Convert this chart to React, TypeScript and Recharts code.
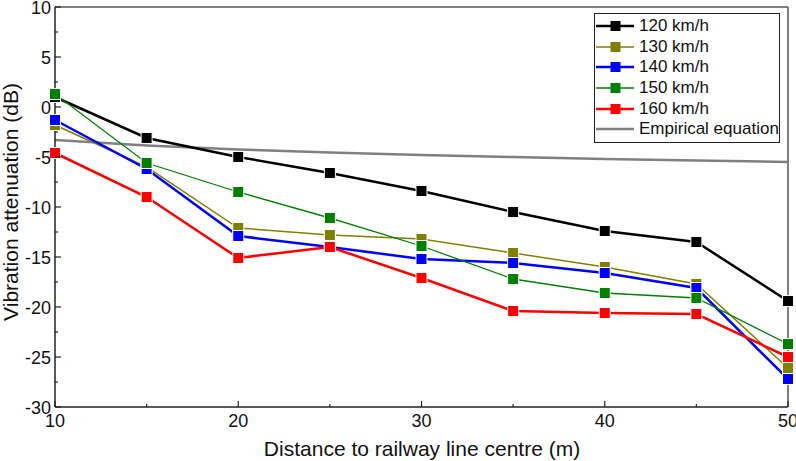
import React from "react";
import { LineChart, Line, XAxis, YAxis, ReferenceLine, Legend } from "recharts";

// distance to railway line centre (m)
const distances = [10, 15, 20, 25, 30, 35, 40, 45, 50];

// vibration attenuation (dB) per train speed
const speed120 = [1.0, -3.1, -5.0, -6.6, -8.4, -10.5, -12.4, -13.5, -19.4];
const speed130 = [-1.8, -6.0, -12.1, -12.8, -13.2, -14.6, -16.0, -17.7, -26.1];
const speed140 = [-1.3, -6.2, -12.9, -14.0, -15.2, -15.6, -16.6, -18.1, -27.2];
const speed150 = [1.3, -5.6, -8.5, -11.1, -13.9, -17.2, -18.6, -19.1, -23.7];
const speed160 = [-4.6, -9.0, -15.1, -14.0, -17.1, -20.4, -20.6, -20.7, -25.0];
const empirical = [-3.3, -3.85, -4.25, -4.55, -4.8, -5.0, -5.2, -5.35, -5.5];

const xTicks = [10, 15, 20, 25, 30, 35, 40, 45, 50];
const yTicks = [-30, -27.5, -25, -22.5, -20, -17.5, -15, -12.5, -10, -7.5, -5, -2.5, 0, 2.5, 5, 7.5, 10];

const data = distances.map((d, i) => ({
  d,
  s120: speed120[i],
  s130: speed130[i],
  s140: speed140[i],
  s150: speed150[i],
  s160: speed160[i],
  emp: empirical[i],
}));

const series = [
  { key: "s120", name: "120 km/h", color: "#000000", width: 2.5 },
  { key: "s130", name: "130 km/h", color: "#808000", width: 1.5 },
  { key: "s140", name: "140 km/h", color: "#0000ff", width: 2.5 },
  { key: "s150", name: "150 km/h", color: "#008000", width: 1.3 },
  { key: "s160", name: "160 km/h", color: "#ff0000", width: 2.5 },
];

const FONT = "'Liberation Sans', Arial, sans-serif";
const AXIS = "#222";

const squareDot = (color: string) => (p: any) => {
  if (p.cx == null || p.cy == null) return <g key={p.index} />;
  return (
    <rect
      key={p.index}
      x={p.cx - 5.5}
      y={p.cy - 5.5}
      width={11}
      height={11}
      fill={color}
      stroke="#fff"
      strokeWidth={1}
    />
  );
};

const XTick = ({ x, y, payload }: any) => {
  const major = payload.value % 10 === 0;
  return (
    <g>
      <line x1={x} x2={x} y1={y} y2={y - (major ? 6 : 3)} stroke={AXIS} strokeWidth={1.2} />
      {major && (
        <text x={x} y={y + 20} textAnchor="middle" fontSize={18} fill="#111" fontFamily={FONT}>
          {payload.value}
        </text>
      )}
    </g>
  );
};

const YTick = ({ x, y, payload }: any) => {
  const major = payload.value % 5 === 0;
  return (
    <g>
      <line x1={x} x2={x + (major ? 6 : 3)} y1={y} y2={y} stroke={AXIS} strokeWidth={1.2} />
      {major && (
        <text x={x - 4} y={y + 6.5} textAnchor="end" fontSize={18} fill="#111" fontFamily={FONT}>
          {payload.value}
        </text>
      )}
    </g>
  );
};

const XTitle = () => (
  <text x={422} y={456} textAnchor="middle" fontSize={21} fill="#111" fontFamily={FONT}>
    Distance to railway line centre (m)
  </text>
);

const YTitle = () => (
  <text
    x={18}
    y={202}
    transform="rotate(-90 18 202)"
    textAnchor="middle"
    fontSize={21}
    fill="#111"
    fontFamily={FONT}
  >
    Vibration attenuation (dB)
  </text>
);

const renderLegend = () => {
  const items = [...series.map((s) => ({ ...s, marker: true })), { key: "emp", name: "Empirical equation", color: "#808080", width: 2.5, marker: false }];
  return (
    <div
      style={{
        border: `1.5px solid ${AXIS}`,
        background: "#fff",
        padding: "2px 0 2px 1px",
        width: 183,
        fontFamily: FONT,
        fontSize: 17,
        color: "#111",
      }}
    >
      {items.map((it) => (
        <div key={it.key} style={{ display: "flex", alignItems: "center", height: 20.6 }}>
          <svg width={40} height={20} style={{ flex: "none" }}>
            <line x1={0} x2={38} y1={10} y2={10} stroke={it.color} strokeWidth={it.width} />
            {it.marker && <rect x={14.5} y={5} width={10} height={10} fill={it.color} />}
          </svg>
          <span style={{ marginLeft: 3, whiteSpace: "nowrap", lineHeight: "20px" }}>{it.name}</span>
        </div>
      ))}
    </div>
  );
};

export default function App() {
  return (
    <div style={{ position: "absolute", left: 0, top: 0, background: "#fff" }}>
      <LineChart width={796} height={461} data={data} margin={{ top: 7, right: 8, bottom: 0, left: 0 }}>
        <XAxis
          dataKey="d"
          type="number"
          domain={[10, 50]}
          ticks={xTicks}
          interval={0}
          height={54}
          tickSize={0}
          tickMargin={0}
          tickLine={false}
          tick={<XTick />}
          stroke={AXIS}
          strokeWidth={1.5}
          label={<XTitle />}
        />
        <YAxis
          type="number"
          domain={[-30, 10]}
          ticks={yTicks}
          interval={0}
          width={55}
          tickSize={0}
          tickMargin={0}
          tickLine={false}
          tick={<YTick />}
          stroke={AXIS}
          strokeWidth={1.5}
          label={<YTitle />}
        />
        <ReferenceLine y={10} stroke="#555" strokeWidth={1.5} />
        <ReferenceLine x={50} stroke="#555" strokeWidth={1.5} />
        <Line
          dataKey="emp"
          name="Empirical equation"
          stroke="#808080"
          strokeWidth={2.5}
          dot={false}
          isAnimationActive={false}
        />
        {series.map((s) => (
          <Line
            key={s.key}
            dataKey={s.key}
            name={s.name}
            stroke={s.color}
            strokeWidth={s.width}
            dot={squareDot(s.color)}
            activeDot={false}
            isAnimationActive={false}
          />
        ))}
        <Legend
          layout="vertical"
          align="center"
          verticalAlign="middle"
          content={renderLegend}
          wrapperStyle={{ left: 594, top: 13, width: 186 }}
        />
      </LineChart>
    </div>
  );
}
